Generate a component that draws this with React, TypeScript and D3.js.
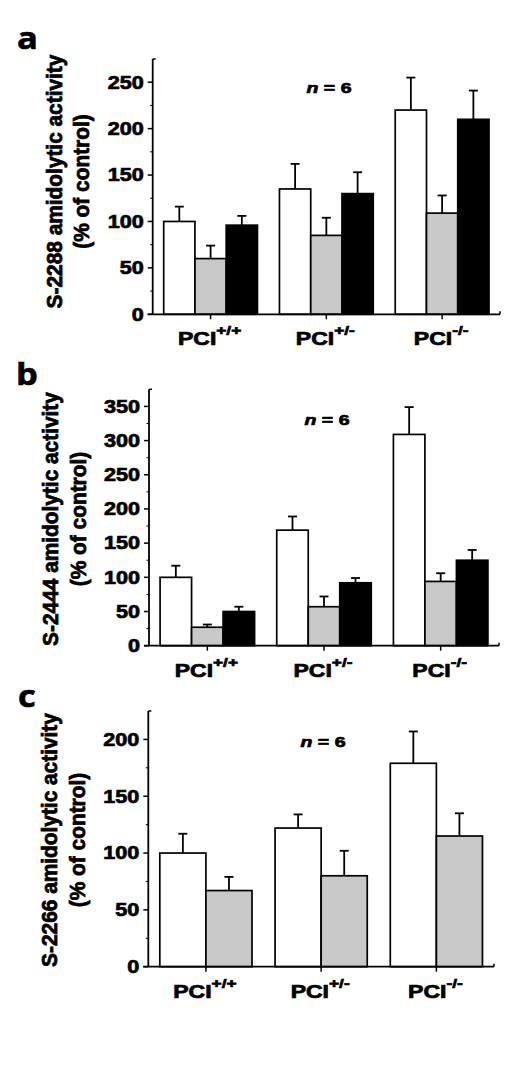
import React from "react";
import * as d3 from "d3";

// ---------- data ----------
const categories = ["+/+", "+/-", "-/-"];

// Panel a: S-2288
const aWhite = [100, 135, 220];
const aWhiteErr = [16, 27, 35];
const aGray = [60, 85, 109];
const aGrayErr = [14, 19, 19];
const aBlack = [96, 130, 210];
const aBlackErr = [10, 23, 31];
const aTicks = [0, 50, 100, 150, 200, 250];

// Panel b: S-2444
const bWhite = [100, 169, 309];
const bWhiteErr = [17, 20, 40];
const bGray = [27, 57, 94];
const bGrayErr = [4, 15, 12];
const bBlack = [50, 92, 125];
const bBlackErr = [7, 7, 15];
const bTicks = [0, 50, 100, 150, 200, 250, 300, 350];

// Panel c: S-2266
const cWhite = [100, 122, 179];
const cWhiteErr = [17, 12, 28];
const cGray = [67, 80, 115];
const cGrayErr = [12, 22, 20];
const cTicks = [0, 50, 100, 150, 200];

const WHITE = "#ffffff";
const GRAY = "#c8c8c8";
const BLACK = "#000000";

const FONT = "'Liberation Sans', Arial, Helvetica, sans-serif";

type Series = { values: number[]; errs: number[]; fill: string };

type PanelDef = {
  letter: string;
  label: string;
  series: Series[];
  ticks: number[];
  max: number;
  x0: number;
  x1: number;
  y0: number;
  yTop: number;
  pad: number;
  labelCy: number;
  nX: number;
  nY: number;
  letterX: number;
  letterY: number;
};

const panels: PanelDef[] = [
  {
    letter: "a",
    label: "S-2288 amidolytic activity",
    series: [
      { values: aWhite, errs: aWhiteErr, fill: WHITE },
      { values: aGray, errs: aGrayErr, fill: GRAY },
      { values: aBlack, errs: aBlackErr, fill: BLACK },
    ],
    ticks: aTicks,
    max: 275,
    x0: 152.7,
    x1: 500,
    y0: 314.3,
    yTop: 59,
    pad: 0.19,
    labelCy: 181.5,
    nX: 329,
    nY: 92.5,
    letterX: 17,
    letterY: 49,
  },
  {
    letter: "b",
    label: "S-2444 amidolytic activity",
    series: [
      { values: bWhite, errs: bWhiteErr, fill: WHITE },
      { values: bGray, errs: bGrayErr, fill: GRAY },
      { values: bBlack, errs: bBlackErr, fill: BLACK },
    ],
    ticks: bTicks,
    max: 375,
    x0: 149,
    x1: 499,
    y0: 645.7,
    yTop: 389.3,
    pad: 0.19,
    labelCy: 519,
    nX: 327,
    nY: 425,
    letterX: 16,
    letterY: 385,
  },
  {
    letter: "c",
    label: "S-2266 amidolytic activity",
    series: [
      { values: cWhite, errs: cWhiteErr, fill: WHITE },
      { values: cGray, errs: cGrayErr, fill: GRAY },
    ],
    ticks: cTicks,
    max: 225,
    x0: 148.3,
    x1: 494,
    y0: 966.7,
    yTop: 711,
    pad: 0.2,
    labelCy: 840,
    nX: 323,
    nY: 746.5,
    letterX: 18,
    letterY: 707,
  },
];

const heavy = { stroke: "#000", strokeWidth: 0.7, paintOrder: "stroke" as const };

function Panel({ p }: { p: PanelDef }) {
  const x = d3
    .scaleBand<string>()
    .domain(categories)
    .range([p.x0, p.x1])
    .paddingInner(p.pad)
    .paddingOuter(p.pad / 2);
  const inner = d3
    .scaleBand<number>()
    .domain(d3.range(p.series.length))
    .range([0, x.bandwidth()]);
  const y = d3.scaleLinear().domain([0, p.max]).range([p.y0, p.yTop]);
  const minor = d3.range(25, p.max, 50);
  const capHalf = 4.5;

  return (
    <g>
      {/* panel letter */}
      <text
        transform={`translate(${p.letterX},${p.letterY}) scale(1.15,1)`}
        fontFamily="'Open Sans', 'DejaVu Sans', sans-serif"
        fontWeight={700}
        fontSize={30}
        fill="#000"
        stroke="#000"
        strokeWidth={0.6}
      >
        {p.letter}
      </text>

      {/* y label */}
      <text
        transform={`translate(${p.x0 - 98.5},${p.labelCy}) rotate(-90) scale(1.07,1.1)`}
        textAnchor="middle"
        dominantBaseline="central"
        fontFamily={FONT}
        fontWeight={700}
        fontSize={19.5}
        {...heavy}
      >
        {p.label}
      </text>
      <text
        transform={`translate(${p.x0 - 71},${p.labelCy}) rotate(-90) scale(1.07,1.1)`}
        textAnchor="middle"
        dominantBaseline="central"
        fontFamily={FONT}
        fontWeight={700}
        fontSize={19.5}
        {...heavy}
      >
        (% of control)
      </text>

      {/* bars */}
      {categories.map((c, ci) => (
        <g key={c}>
          {p.series.map((s, si) => {
            const bx = (x(c) as number) + (inner(si) as number);
            const bw = inner.bandwidth();
            const top = y(s.values[ci]);
            const cx = bx + bw / 2;
            const eTop = y(s.values[ci] + s.errs[ci]);
            return (
              <g key={si}>
                <line x1={cx} x2={cx} y1={top} y2={eTop} stroke="#000" strokeWidth={1.8} />
                <line
                  x1={cx - capHalf}
                  x2={cx + capHalf}
                  y1={eTop}
                  y2={eTop}
                  stroke="#000"
                  strokeWidth={1.8}
                />
                <rect
                  x={bx}
                  y={top}
                  width={bw}
                  height={p.y0 - top}
                  fill={s.fill}
                  stroke="#000"
                  strokeWidth={1.7}
                />
              </g>
            );
          })}
        </g>
      ))}

      {/* y axis */}
      <line x1={p.x0} x2={p.x0} y1={p.yTop} y2={p.y0} stroke="#000" strokeWidth={1.8} />
      <line x1={p.x0} x2={p.x0 + 3} y1={p.yTop} y2={p.yTop} stroke="#000" strokeWidth={1.5} />
      {p.ticks.map((t) => (
        <g key={t}>
          <line x1={p.x0 - 5} x2={p.x0} y1={y(t)} y2={y(t)} stroke="#000" strokeWidth={1.5} />
          <text
            transform={`translate(${p.x0 - 9},${y(t)}) scale(1.2,1)`}
            textAnchor="end"
            dominantBaseline="central"
            fontFamily={FONT}
            fontWeight={700}
            fontSize={18}
            {...heavy}
          >
            {t}
          </text>
        </g>
      ))}
      {minor.map((t) => (
        <line key={t} x1={p.x0 - 2.5} x2={p.x0} y1={y(t)} y2={y(t)} stroke="#000" strokeWidth={1} />
      ))}

      {/* x axis */}
      <line x1={p.x0 - 5} x2={p.x1} y1={p.y0} y2={p.y0} stroke="#000" strokeWidth={1.8} />
      <line x1={p.x1} x2={p.x1} y1={p.y0} y2={p.y0 - 3} stroke="#000" strokeWidth={1.5} />
      {categories.map((c) => {
        const cx = (x(c) as number) + x.bandwidth() / 2;
        return (
          <g key={c}>
            <line x1={cx} x2={cx} y1={p.y0} y2={p.y0 + 5} stroke="#000" strokeWidth={1.5} />
            <text
              transform={`translate(${cx - 1},${p.y0 + 31}) scale(1.28,1)`}
              textAnchor="middle"
              fontFamily={FONT}
              fontWeight={700}
              fontSize={18}
              {...heavy}
            >
              PCI
              <tspan dy={-10} fontSize={13.5}>
                {c}
              </tspan>
            </text>
          </g>
        );
      })}

      {/* n = 6 */}
      <text
        transform={`translate(${p.nX},${p.nY}) scale(1.3,1)`}
        textAnchor="middle"
        fontFamily={FONT}
        fontWeight={700}
        fontSize={15}
        {...heavy}
      >
        <tspan fontStyle="italic">n</tspan>
        {" = 6"}
      </text>
    </g>
  );
}

export default function App() {
  return (
    <svg
      width={511}
      height={1073}
      viewBox="0 0 511 1073"
      style={{ position: "absolute", left: 0, top: 0, background: "#fff" }}
    >
      <rect x={0} y={0} width={511} height={1073} fill="#fff" />
      {panels.map((p) => (
        <Panel key={p.letter} p={p} />
      ))}
    </svg>
  );
}
